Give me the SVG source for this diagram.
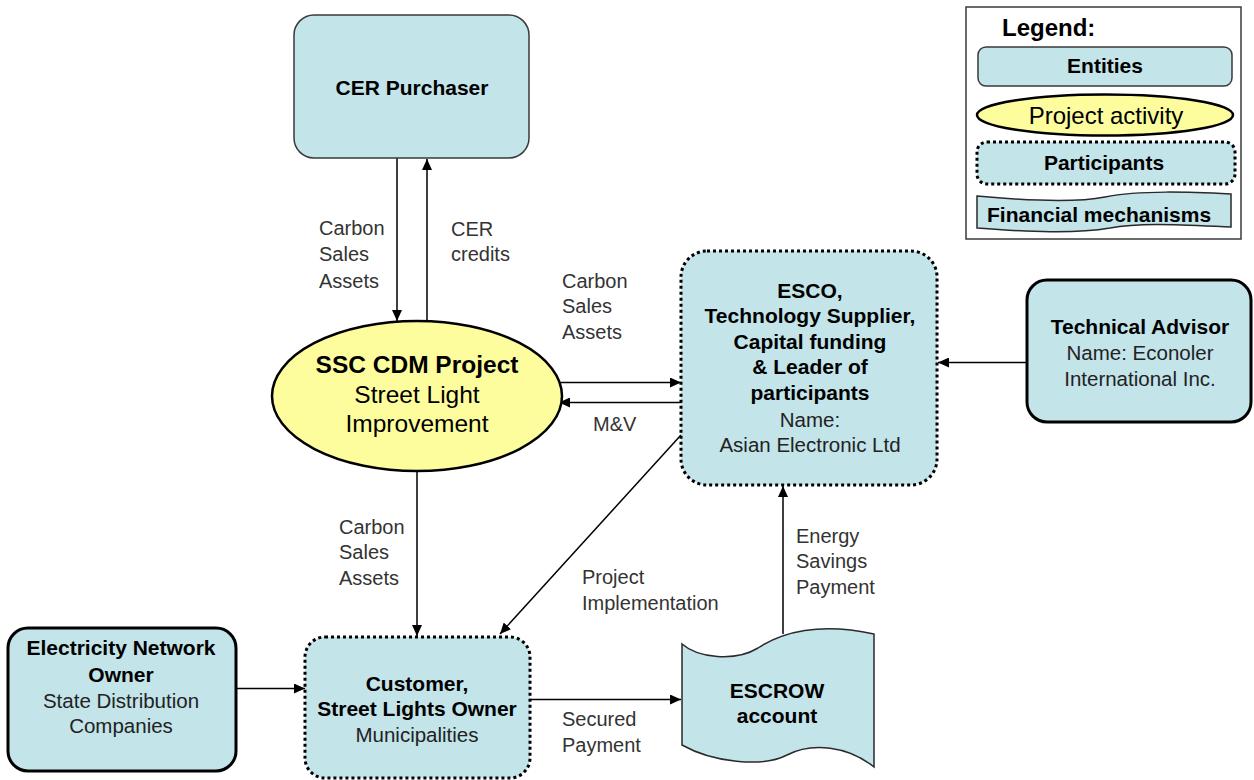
<svg xmlns="http://www.w3.org/2000/svg" width="1254" height="780" viewBox="0 0 1254 780">
<style>
.ent{fill:#c3e4e9;stroke:#3a3a3a;stroke-width:1.5}
.entk{fill:#c3e4e9;stroke:#000;stroke-width:3}
.par{fill:#c3e4e9;stroke:#000;stroke-width:3;stroke-dasharray:3 3}
.fin{fill:#c3e4e9;stroke:#2a2a2a;stroke-width:1.5}
.act{fill:#fdfd9d;stroke:#000;stroke-width:2.5}
.b{font-family:"Liberation Sans",Arial,sans-serif;font-weight:bold;font-size:21px;fill:#000;text-anchor:middle}
.r{font-family:"Liberation Sans",Arial,sans-serif;font-size:20.5px;fill:#222;text-anchor:middle}
.lbl{font-family:"Liberation Sans",Arial,sans-serif;font-size:20px;fill:#333}
.c{stroke:#000;stroke-width:1.5;fill:none;marker-end:url(#ah)}
</style>
<defs>
<marker id="ah" markerUnits="userSpaceOnUse" markerWidth="11" markerHeight="10" refX="11" refY="5" orient="auto">
<path d="M0,0 L11,5 L0,10 Z" fill="#000"/>
</marker>
</defs>
<rect width="1254" height="780" fill="#fff"/>

<g id="legend">
<rect x="966" y="7" width="275" height="232" fill="#fff" stroke="#3a3a3a" stroke-width="1.5"/>
<text x="1002" y="36" font-family="Liberation Sans,Arial,sans-serif" font-weight="bold" font-size="24px" fill="#000">Legend:</text>
<rect class="ent" x="978" y="47" width="254" height="39" rx="8"/>
<text class="b" x="1105" y="73">Entities</text>
<ellipse class="act" cx="1105" cy="115" rx="128" ry="20.5"/>
<text x="1106" y="124" font-family="Liberation Sans,Arial,sans-serif" font-size="24px" fill="#000" text-anchor="middle">Project activity</text>
<rect class="par" x="977" y="142" width="258" height="42" rx="10"/>
<text class="b" x="1104" y="170">Participants</text>
<path class="fin" d="M977,196 C1030,201 1075,203 1105,197 C1140,190 1190,192 1231,194 L1231,227 C1185,225 1140,222 1110,228 C1075,234 1030,232 977,228 Z"/>
<text x="987" y="222" font-family="Liberation Sans,Arial,sans-serif" font-weight="bold" font-size="21px" fill="#000">Financial mechanisms</text>
</g>

<g id="connectors">
<line class="c" x1="397" y1="158" x2="397" y2="321"/>
<line class="c" x1="427" y1="320" x2="427" y2="159"/>
<line class="c" x1="561" y1="382.5" x2="681" y2="382.5"/>
<line class="c" x1="681" y1="402.5" x2="559" y2="402.5"/>
<line class="c" x1="1027" y1="362.5" x2="938" y2="362.5"/>
<line class="c" x1="681" y1="435" x2="500" y2="634"/>
<line class="c" x1="417" y1="471" x2="417" y2="636"/>
<line class="c" x1="236" y1="688.5" x2="305" y2="688.5"/>
<line class="c" x1="530" y1="699.5" x2="681" y2="699.5"/>
<line class="c" x1="783" y1="634" x2="783" y2="486"/>
<text class="lbl" x="319" y="235">Carbon</text>
<text class="lbl" x="319" y="261">Sales</text>
<text class="lbl" x="319" y="288">Assets</text>
<text class="lbl" x="451" y="236">CER</text>
<text class="lbl" x="451" y="261">credits</text>
<text class="lbl" x="562" y="288">Carbon</text>
<text class="lbl" x="562" y="313">Sales</text>
<text class="lbl" x="562" y="339">Assets</text>
<text class="lbl" x="593" y="431">M&amp;V</text>
<text class="lbl" x="339" y="534">Carbon</text>
<text class="lbl" x="339" y="559">Sales</text>
<text class="lbl" x="339" y="585">Assets</text>
<text class="lbl" x="582" y="584">Project</text>
<text class="lbl" x="582" y="610">Implementation</text>
<text class="lbl" x="796" y="543">Energy</text>
<text class="lbl" x="796" y="568">Savings</text>
<text class="lbl" x="796" y="594">Payment</text>
<text class="lbl" x="562" y="726">Secured</text>
<text class="lbl" x="562" y="752">Payment</text>
</g>

<g id="cer-purchaser">
<rect class="ent" x="294" y="15" width="235" height="143" rx="20"/>
<text class="b" x="412" y="95">CER Purchaser</text>
</g>

<g id="ssc-cdm-project">
<ellipse class="act" cx="417" cy="396" rx="145" ry="75"/>
<text x="417" y="373" font-family="Liberation Sans,Arial,sans-serif" font-weight="bold" font-size="24.5px" fill="#000" text-anchor="middle">SSC CDM Project</text>
<text x="417" y="403" font-family="Liberation Sans,Arial,sans-serif" font-size="24.5px" fill="#000" text-anchor="middle">Street Light</text>
<text x="417" y="432" font-family="Liberation Sans,Arial,sans-serif" font-size="24.5px" fill="#000" text-anchor="middle">Improvement</text>
</g>

<g id="esco">
<rect class="par" x="681" y="251" width="256" height="234" rx="26"/>
<text class="b" x="810" y="298">ESCO,</text>
<text class="b" x="810" y="323">Technology Supplier,</text>
<text class="b" x="810" y="349">Capital funding</text>
<text class="b" x="810" y="374">&amp; Leader of</text>
<text class="b" x="810" y="400">participants</text>
<text class="r" x="810" y="427">Name:</text>
<text class="r" x="810" y="452">Asian Electronic Ltd</text>
</g>

<g id="technical-advisor">
<rect class="entk" x="1027" y="280" width="224" height="142" rx="20"/>
<text class="b" x="1140" y="334">Technical Advisor</text>
<text class="r" x="1140" y="360">Name: Econoler</text>
<text class="r" x="1140" y="386">International Inc.</text>
</g>

<g id="electricity-network-owner">
<rect class="entk" x="8" y="628" width="228" height="143" rx="20"/>
<text class="b" x="121" y="655">Electricity Network</text>
<text class="b" x="121" y="682">Owner</text>
<text class="r" x="121" y="708">State Distribution</text>
<text class="r" x="121" y="733">Companies</text>
</g>

<g id="customer">
<rect class="par" x="305" y="637" width="225" height="141" rx="20"/>
<text class="b" x="417" y="691">Customer,</text>
<text class="b" x="417" y="716">Street Lights Owner</text>
<text class="r" x="417" y="742">Municipalities</text>
</g>

<g id="escrow">
<path class="fin" d="M682,644 C698,658 735,662 758,648 C782,632 820,622 874,634 L874,767 C848,746 812,742 787,755 C762,768 712,762 682,745 Z"/>
<text class="b" x="777" y="698">ESCROW</text>
<text class="b" x="777" y="723">account</text>
</g>
</svg>
